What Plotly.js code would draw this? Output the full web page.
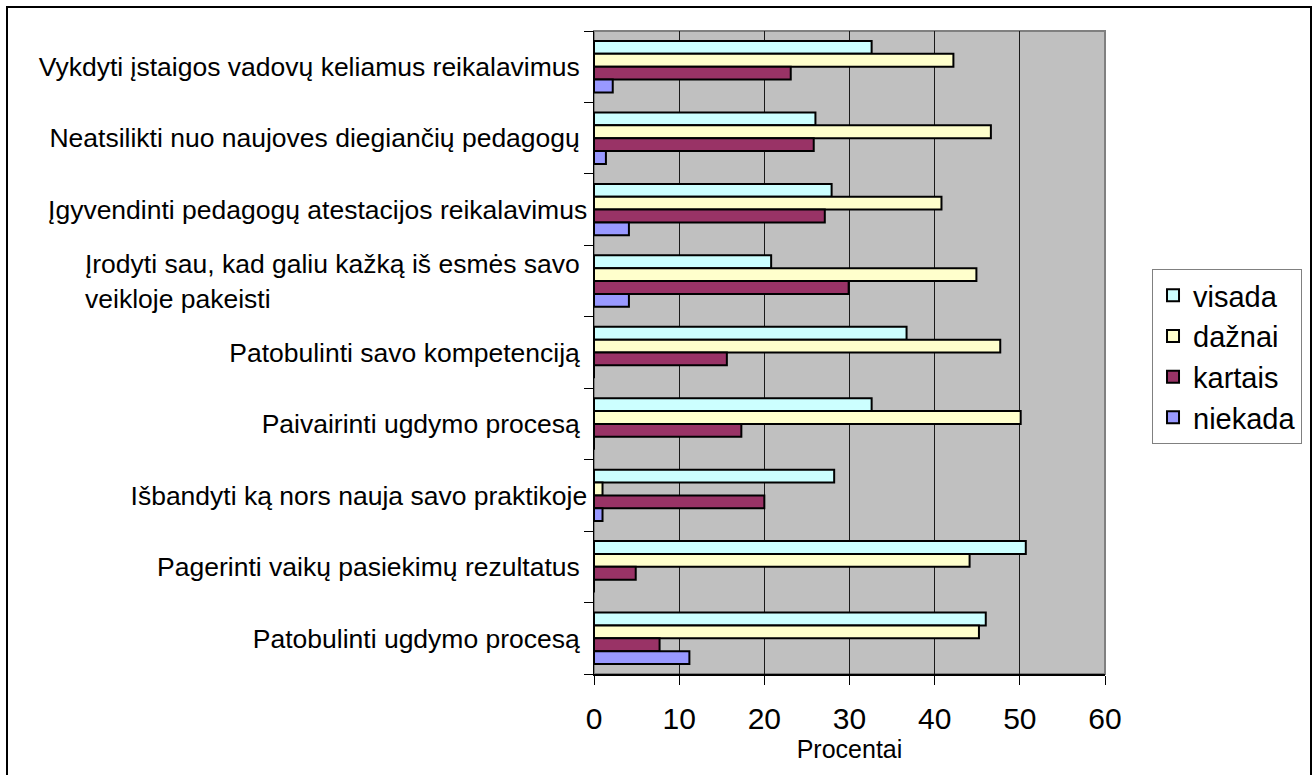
<!DOCTYPE html>
<html>
<head>
<meta charset="utf-8">
<script src="https://cdn.plot.ly/plotly-3.0.1.min.js"></script>
<style>
  html, body { margin: 0; padding: 0; background: #ffffff; }
  #chart { position: absolute; left: 0; top: 0; width: 1315px; height: 775px; }
  #frame { position: absolute; left: 6px; top: 6px; width: 1302px; height: 790px;
           border: 2px solid #000; pointer-events: none; }
</style>
</head>
<body>
<div id="chart"></div>
<div id="frame"></div>
<script>
// Categories, top to bottom as in the reference
const categories = [
  "Vykdyti įstaigos vadovų keliamus reikalavimus",
  "Neatsilikti nuo naujoves diegiančių pedagogų",
  "Įgyvendinti pedagogų atestacijos reikalavimus",
  "Įrodyti sau, kad galiu kažką iš esmės savo veikloje pakeisti",
  "Patobulinti savo kompetenciją",
  "Paivairinti ugdymo procesą",
  "Išbandyti ką nors nauja savo praktikoje",
  "Pagerinti vaikų pasiekimų rezultatus",
  "Patobulinti ugdymo procesą"
];

// Displayed tick labels (same order)
const NB = "\u00A0";
const tickLabels = [
  "Vykdyti įstaigos vadovų keliamus reikalavimus" + NB,
  "Neatsilikti nuo naujoves diegiančių pedagogų" + NB,
  "Įgyvendinti pedagogų atestacijos reikalavimus",
  "Įrodyti sau, kad galiu kažką iš esmės savo" + NB + "<br>" + NB + "veikloje pakeisti" + NB.repeat(43),
  "Patobulinti savo kompetenciją" + NB,
  "Paivairinti ugdymo procesą" + NB,
  "Išbandyti ką nors nauja savo praktikoje",
  "Pagerinti vaikų pasiekimų rezultatus" + NB,
  "Patobulinti ugdymo procesą" + NB
];

const seriesNames = ["visada", "dažnai", "kartais", "niekada"];

const visada  = [32.6, 26.0, 27.9, 20.8, 36.7, 32.6, 28.2, 50.7, 46.0];
const daznai  = [42.2, 46.6, 40.8, 44.9, 47.7, 50.1,  1.0, 44.1, 45.2];
const kartais = [23.1, 25.8, 27.1, 29.9, 15.6, 17.3, 20.0,  4.9,  7.7];
const niekada = [ 2.2,  1.4,  4.1,  4.1,  0,    0,    1.0,  0,   11.2];

const xTicks = [0, 10, 20, 30, 40, 50, 60];

const seriesValues = [visada, daznai, kartais, niekada];
const seriesColors = ["#CCFFFF", "#FFFFCC", "#993366", "#9999FF"];

const traces = seriesNames.map((name, i) => ({
  type: "bar",
  orientation: "h",
  name: name,
  y: categories,
  x: seriesValues[i],
  marker: { color: seriesColors[i], line: { color: "#000000", width: 2 } },
  hoverinfo: "x+name"
}));

const FONT = "Liberation Sans, Arial, Helvetica, sans-serif";

const layout = {
  width: 1315,
  height: 775,
  margin: { l: 594, r: 210, t: 31, b: 101, pad: 0 },
  paper_bgcolor: "rgba(0,0,0,0)",
  plot_bgcolor: "#C0C0C0",
  font: { family: FONT, color: "#000000" },
  barmode: "group",
  bargap: 0.28,
  bargroupgap: 0,
  showlegend: true,
  legend: {
    x: 1.092, xanchor: "left",
    y: 0.63, yanchor: "top",
    bgcolor: "#ffffff",
    bordercolor: "#808080",
    borderwidth: 1,
    font: { family: FONT, size: 29, color: "#000000" },
    traceorder: "normal",
    tracegroupgap: 0
  },
  xaxis: {
    range: [0, 60],
    tickvals: xTicks,
    ticktext: xTicks.map(String),
    ticks: "outside",
    ticklen: 9,
    tickwidth: 1,
    tickcolor: "#000000",
    ticklabelstandoff: 8,
    showline: true,
    linecolor: "#000000",
    linewidth: 1.5,
    showgrid: true,
    gridcolor: "#1a1a1a",
    gridwidth: 1,
    zeroline: false,
    tickfont: { family: FONT, size: 30, color: "#000000" },
    title: { text: "Procentai", font: { family: FONT, size: 25, color: "#000000" }, standoff: 1 },
    fixedrange: true
  },
  yaxis: {
    type: "category",
    categoryorder: "array",
    categoryarray: categories,
    autorange: "reversed",
    tickvals: categories,
    ticktext: tickLabels,
    tickson: "boundaries",
    ticks: "outside",
    ticklen: 9,
    tickwidth: 1,
    tickcolor: "#000000",
    showline: true,
    linecolor: "#000000",
    linewidth: 1.5,
    showgrid: false,
    zeroline: false,
    tickfont: { family: FONT, size: 26.5, color: "#000000" },
    fixedrange: true
  },
  shapes: [{
    type: "rect", xref: "paper", yref: "paper",
    x0: 0, x1: 1, y0: 0, y1: 1,
    line: { color: "#808080", width: 2 },
    layer: "below"
  }]
};

Plotly.newPlot("chart", traces, layout, { displayModeBar: false, staticPlot: true });
</script>
</body>
</html>
